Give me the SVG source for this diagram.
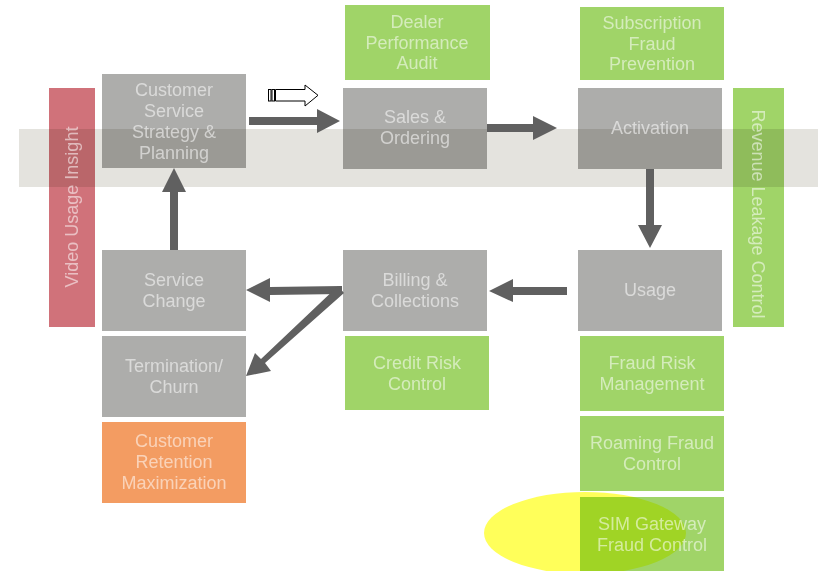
<svg xmlns="http://www.w3.org/2000/svg" width="818" height="571" viewBox="0 0 818 571">
<style>
.g{fill:#adadab;mix-blend-mode:multiply}
.gr{fill:#a0d468;mix-blend-mode:multiply}
.t{font-family:"Liberation Sans",Arial,sans-serif;font-size:18px;fill:#ffffff;fill-opacity:0.55;text-anchor:middle;dominant-baseline:central}
.a{fill:#606060}
</style>
<rect width="818" height="571" fill="#ffffff"/>
<rect id="band" x="19" y="129" width="799" height="58" fill="#e4e3de"/>
<g id="video-usage-insight"><rect x="49" y="88" width="46" height="239" fill="#d0727a" style="mix-blend-mode:multiply"/><text class="t" transform="translate(72,207) rotate(-90)" x="0" y="0">Video Usage Insight</text></g>
<g id="customer-service"><rect class="g" x="102" y="74" width="144" height="94"/><text class="t" x="174" y="89.5">Customer</text><text class="t" x="174" y="110.5">Service</text><text class="t" x="174" y="131.5">Strategy &amp;</text><text class="t" x="174" y="152.5">Planning</text></g>
<g id="dealer-audit"><rect class="gr" x="345" y="5" width="145" height="75"/><text class="t" x="417" y="22">Dealer</text><text class="t" x="417" y="42.5">Performance</text><text class="t" x="417" y="63">Audit</text></g>
<g id="sales-ordering"><rect class="g" x="343" y="88" width="144" height="81"/><text class="t" x="415" y="117">Sales &amp;</text><text class="t" x="415" y="138">Ordering</text></g>
<g id="subscription-fraud"><rect class="gr" x="580" y="7" width="144" height="73"/><text class="t" x="652" y="23">Subscription</text><text class="t" x="652" y="43.5">Fraud</text><text class="t" x="652" y="64">Prevention</text></g>
<g id="activation"><rect class="g" x="578" y="88" width="144" height="81"/><text class="t" x="650" y="128">Activation</text></g>
<g id="revenue-leakage"><rect class="gr" x="733" y="88" width="51" height="239"/><text class="t" transform="translate(758,214) rotate(90)" x="0" y="0">Revenue Leakage Control</text></g>
<g id="service-change"><rect class="g" x="102" y="250" width="144" height="81"/><text class="t" x="174" y="280">Service</text><text class="t" x="174" y="301">Change</text></g>
<g id="billing"><rect class="g" x="343" y="250" width="144" height="81"/><text class="t" x="415" y="280">Billing &amp;</text><text class="t" x="415" y="301">Collections</text></g>
<g id="usage"><rect class="g" x="578" y="250" width="144" height="81"/><text class="t" x="650" y="290">Usage</text></g>
<g id="termination"><rect class="g" x="102" y="336" width="144" height="81"/><text class="t" x="174" y="366">Termination/</text><text class="t" x="174" y="387">Churn</text></g>
<g id="credit-risk"><rect class="gr" x="345" y="336" width="144" height="74"/><text class="t" x="417" y="362.5">Credit Risk</text><text class="t" x="417" y="383.5">Control</text></g>
<g id="fraud-risk"><rect class="gr" x="580" y="336" width="144" height="75"/><text class="t" x="652" y="363">Fraud Risk</text><text class="t" x="652" y="383.5">Management</text></g>
<g id="retention"><rect x="102" y="422" width="144" height="81" fill="#f39c62"/><text class="t" x="174" y="441">Customer</text><text class="t" x="174" y="462">Retention</text><text class="t" x="174" y="482.5">Maximization</text></g>
<g id="roaming-fraud"><rect class="gr" x="580" y="416" width="144" height="75"/><text class="t" x="652" y="443">Roaming Fraud</text><text class="t" x="652" y="463.5">Control</text></g>
<g id="sim-gateway"><rect class="gr" x="580" y="497" width="144" height="74"/><ellipse cx="585" cy="533" rx="101" ry="41" fill="#ffff5a" style="mix-blend-mode:multiply"/><text class="t" x="652" y="524">SIM Gateway</text><text class="t" x="652" y="544.5">Fraud Control</text></g>
<g id="connectors">
<polygon class="a" points="249,117 317,117 317,109 340,121 317,133 317,125 249,125"/>
<polygon class="a" points="487,124 533,124 533,116 557,128 533,140 533,132 487,132"/>
<polygon class="a" points="646,169 654,169 654,225 662,225 650,248 638,225 646,225"/>
<polygon class="a" points="567,287 513,287 513,279 489,291 513,302 513,295 567,295"/>
<polygon class="a" points="342,286 270,287 270,278 246,290 270,302 270,295 342,294"/>
<polygon class="a" points="338,286 344,293 265,363 271,371 246,376 255,353 261,359"/>
<polygon class="a" points="170,250 178,250 178,192 186,192 174,168 162,192 170,192"/>
<g id="hollow-arrow" fill="#ffffff" stroke="#000000" stroke-width="1">
<rect x="268.5" y="89.5" width="2.5" height="11.5"/>
<rect x="272" y="89.5" width="2.5" height="11.5"/>
<polygon points="275.5,89.5 305,89.5 305,85 318,95.3 305,106 305,101 275.5,101"/>
</g>
</g>
</svg>
